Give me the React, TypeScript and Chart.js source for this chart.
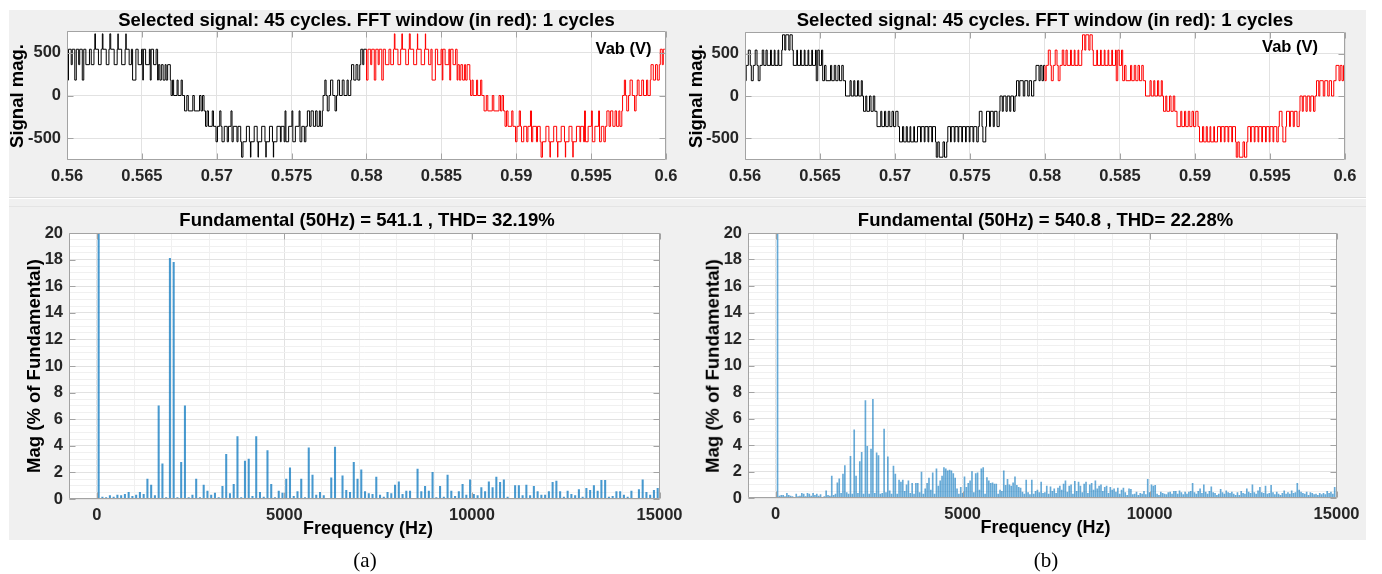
import React, { useEffect, useRef } from 'react';
import { Chart, registerables } from 'chart.js';

Chart.register(...registerables);

// ---------------- data ----------------
const TIME_START = 0.56;
const WINDOW_START = 0.58;
const PERIOD_S = 0.02;

// one cycle of Vab (ms from cycle start, volts), panel (a)
const WAVE_A_MS = [
  0.0, 0.1, 0.28, 0.35, 0.52, 0.62, 0.78, 0.85, 1.02, 1.12, 1.26,
  1.5, 1.62, 1.8, 1.86,
  1.9, 2.1, 2.28, 2.36, 2.4, 2.62, 2.8, 2.86, 2.92, 3.15, 3.35, 3.4, 3.42, 3.65, 3.88, 3.93, 3.95, 4.15,
  4.3, 4.38, 4.6, 4.75, 4.98, 5.06, 5.1, 5.25, 5.5, 5.56, 5.62, 5.78, 5.95, 6.05, 6.1,
  6.2, 6.3, 6.42, 6.55, 6.62, 6.72, 6.9, 6.95,
  7.05, 7.12, 7.35, 7.42, 7.62, 7.7, 7.85,
  8.0, 8.1, 8.4, 8.5, 8.85, 8.95, 9.05, 9.15, 9.25,
  9.35, 9.45, 9.7, 9.78, 9.95,
  10.05, 10.2, 10.28, 10.35, 10.5, 10.7, 10.78, 10.95, 11.02, 11.1, 11.35, 11.42, 11.6, 11.66,
  11.75, 11.98, 12.18, 12.25, 12.28, 12.5, 12.7, 12.76, 12.78, 13.0, 13.22, 13.28, 13.3, 13.52, 13.72, 13.78, 13.8, 14.02,
  14.25, 14.3, 14.5, 14.56, 14.62, 14.8, 15.02, 15.08, 15.25, 15.5, 15.56, 15.68, 15.85, 15.95, 16.05,
  16.2, 16.3, 16.45, 16.6, 16.7, 16.85, 16.92, 17.05,
  17.1, 17.22, 17.3, 17.38, 17.5, 17.6, 17.75, 17.9, 18.0, 18.08,
  18.2, 18.38, 18.5, 18.7, 18.78, 18.95, 19.0,
  19.15, 19.3, 19.42, 19.55, 19.62, 19.75, 19.82, 19.9,
];
const WAVE_A_V = [
  540, 180, 540, 360, 540, 180, 540, 360, 540, 180, 540,
  360, 540, 360, 540,
  720, 540, 360, 540, 720, 540, 360, 540, 720, 540, 360, 540, 720, 540, 360, 540, 720, 540,
  360, 540, 180, 540, 360, 540, 180, 540, 360, 540, 180, 540, 360, 540, 180,
  360, 180, 360, 180, 360, 180, 360, 180,
  0, 180, 0, 180, 0, 180, 0,
  -180, 0, -180, 0, -180, 0, -180, 0, -180,
  -360, -180, -360, -180, -360,
  -540, -360, -180, -360, -540, -360, -540, -360, -180, -540, -360, -540, -360, -540,
  -720, -540, -360, -540, -720, -540, -360, -540, -720, -540, -360, -540, -720, -540, -360, -540, -720, -540,
  -360, -540, -360, -540, -180, -540, -360, -180, -540, -360, -180, -540, -360, -540, -360,
  -180, -360, -180, -360, -180, -360, -180, -360,
  -180, 0, 180, 0, -180, 0, 180, 0, -180, 0,
  180, 0, 180, 0, 180, 0, 180,
  360, 180, 360, 180, 360, 540, 360, 540,
];

// one cycle of Vab, panel (b)
const WAVE_B_MS = [
  0.0, 0.08, 0.22, 0.35, 0.42, 0.55, 0.68, 0.8, 0.88, 1.0, 1.15, 1.25,
  1.4, 1.48, 1.7, 1.76, 1.95, 2.0, 2.2, 2.25, 2.45, 2.5,
  2.65, 2.72, 2.92, 3.0, 3.15, 3.22,
  3.45, 3.5, 3.7, 3.75, 3.95, 4.0, 4.2, 4.25, 4.45, 4.5, 4.7, 4.75, 4.85, 4.95, 5.1, 5.18, 5.3, 5.4,
  5.7, 5.78, 5.95, 6.05, 6.2, 6.3, 6.45, 6.55, 6.7,
  7.0, 7.08, 7.25, 7.32, 7.5, 7.58, 7.75, 7.82, 7.9,
  8.05, 8.12, 8.3, 8.4, 8.55, 8.65, 8.8,
  9.05, 9.12, 9.3, 9.38, 9.55, 9.65, 9.8, 9.9, 10.05, 10.2, 10.3,
  10.5, 10.58, 10.75, 10.82, 11.0, 11.05, 11.25, 11.3, 11.5,
  11.7, 11.75, 11.95, 12.0, 12.2, 12.25, 12.45, 12.5, 12.7, 12.75, 12.85, 12.95, 13.2, 13.3, 13.45, 13.52,
  13.7, 13.75, 13.95, 14.0, 14.2, 14.25, 14.45, 14.5, 14.7, 14.75, 14.95, 15.0, 15.2, 15.25, 15.45,
  15.55, 15.62, 15.8, 15.86, 16.05, 16.1, 16.3, 16.36, 16.55, 16.62, 16.8,
  16.95, 17.0, 17.15, 17.22, 17.4, 17.48, 17.65, 17.72, 17.9, 18.0, 18.1,
  18.25, 18.32, 18.55, 18.65, 18.85, 18.95, 19.1, 19.25, 19.4,
  19.6, 19.68, 19.8, 19.9, 19.95,
];
const WAVE_B_V = [
  360, 180, 360, 540, 360, 180, 360, 540, 360, 180, 360, 540,
  360, 540, 360, 540, 360, 540, 360, 540, 360, 540,
  720, 540, 720, 540, 720, 540,
  360, 540, 360, 540, 360, 540, 360, 540, 360, 540, 360, 540, 180, 540, 360, 540, 180, 360,
  180, 360, 180, 360, 180, 360, 180, 360, 180,
  0, 180, 0, 180, 0, 180, 0, 180, 0,
  -180, 0, -180, 0, -180, 0, -180,
  -360, -180, -360, -180, -360, -180, -360, -180, -360, -180, -360,
  -540, -360, -540, -360, -540, -360, -540, -360, -540,
  -360, -540, -360, -540, -360, -540, -360, -540, -360, -540, -720, -540, -720, -540, -720, -540,
  -360, -540, -360, -540, -360, -540, -360, -540, -360, -540, -360, -540, -360, -540, -360,
  -540, -360, -180, -360, -540, -360, -180, -360, -180, -360, -180,
  -360, -180, 0, -180, 0, -180, 0, -180, 0, -180, 0,
  180, 0, 180, 0, 180, 0, 180, 0, 180,
  360, 180, 360, 180, 360,
];

const TOP_X_TICKS = [0.56, 0.565, 0.57, 0.575, 0.58, 0.585, 0.59, 0.595, 0.6];
const TOP_X_LABELS = ['0.56', '0.565', '0.57', '0.575', '0.58', '0.585', '0.59', '0.595', '0.6'];
const TOP_Y_TICKS = [-500, 0, 500];
const TOP_Y_LABELS = ['-500', '0', '500'];

// spectra (% of fundamental)
const FUND_FREQ = 50;
const FUND_MAG = 100;
const HARM_A_START = 150;
const HARM_A_STEP = 100;
const HARM_A_MAG = [
  0.15, 0.1, 0.25, 0.15, 0.3, 0.25, 0.35, 0.5, 0.2, 0.3, 0.5, 0.35,
  1.5, 1.05, 0.25, 7.0, 2.65, 0.1, 18.1, 17.8, 0.1, 2.75,
  7.0, 0.1, 0.3, 1.5, 0.1, 1.05, 0.6, 0.3, 0.45, 0.1,
  0.95, 3.35, 0.4, 1.1, 4.7, 0.1, 2.85, 3.0, 0.2, 4.7,
  0.5, 0.15, 3.65, 1.1, 0.1, 0.6, 0.45, 1.5, 2.35, 0.2,
  0.55, 1.5, 0.1, 3.85, 1.8, 0.3, 0.5, 0.25, 0.05, 1.6,
  3.9, 0.05, 1.75, 0.65, 0.5, 2.75, 1.5, 2.2, 0.55, 0.4,
  0.35, 1.65, 0.3, 0.15, 0.5, 0.4, 1.05, 1.3, 0.35, 0.6,
  0.6, 0.05, 2.25, 0.55, 0.95, 0.6, 2.0, 0.1, 0.95, 0.15,
  1.8, 0.6, 0.2, 0.55, 1.1, 0.3, 1.45, 0.35, 0.25, 0.85,
  0.55, 1.3, 0.85, 1.65, 1.25, 1.45, 0.15, 0.05, 1.0, 1.0,
  0.25, 1.05, 0.25, 0.95, 0.55, 0.3, 0.3, 0.55, 1.25, 1.35,
  0.55, 0.15, 0.6, 0.35, 0.25, 0.7, 0.15, 0.8, 0.65, 1.0,
  0.6, 1.4, 1.4, 0.15, 0.2, 0.55, 0.55, 0.3, 0.15, 0.6,
  0.05, 0.7, 1.45, 0.5, 0.3, 0.65, 0.8,
];
const HARM_B_START = 100;
const HARM_B_STEP = 50;
const HARM_B_MAG = [
  0.15, 0.2, 0.2, 0.1, 0.35, 0.2, 0.15, 0.1, 0.05, 0.3, 0.1, 0.15, 0.35, 0.3,
  0.1, 0.35, 0.3, 0.15, 0.35, 0.2, 0.3, 0.15, 0.25, 0.05, 0.1, 0.55, 0.2, 0.15,
  1.65, 0.2, 0.3, 1.15, 1.45, 0.35, 1.8, 2.45, 0.4, 0.3,
  3.15, 0.3, 5.15, 1.65, 0.35, 2.75, 3.45, 0.3, 7.35, 3.9,
  0.3, 3.7, 7.45, 0.35, 3.4, 3.2, 0.3, 0.35, 5.2, 0.4,
  3.1, 0.55, 0.3, 2.4, 1.8, 0.3, 1.35, 1.2, 1.35, 0.5, 1.0,
  1.3, 0.35, 1.1, 0.3, 1.1, 1.1, 0.4, 1.95, 0.3, 0.7,
  1.1, 1.5, 0.6, 1.9, 0.3, 2.2, 0.9, 1.3, 1.65, 2.3,
  2.2, 2.05, 2.1, 2.05, 1.85, 1.5, 0.7, 0.3, 0.8, 0.35,
  1.6, 0.8, 1.1, 1.3, 2.0, 0.4, 1.85, 1.9, 0.6, 2.2,
  2.3, 0.3, 1.55, 1.3, 1.1, 1.15, 1.05, 1.05, 0.3, 0.6,
  0.5, 2.05, 0.95, 1.4, 1.0, 0.9, 1.15, 1.6, 0.95, 0.8,
  0.75, 0.45, 0.3, 1.35, 0.4, 0.25, 1.35, 0.3, 0.5, 0.6,
  0.4, 1.2, 0.35, 0.4, 0.9, 0.3, 0.85, 0.5, 0.7, 0.35,
  0.75, 0.9, 0.6, 1.05, 1.3, 0.45, 0.9, 1.0, 0.3, 1.25,
  0.5, 1.2, 0.9, 0.4, 1.05, 1.2, 0.35, 1.0, 1.1, 0.6,
  1.3, 0.7, 0.9, 1.0, 0.5, 0.8, 0.9, 0.35, 0.8, 0.6,
  0.7, 0.45, 0.75, 0.3, 0.6, 0.75, 0.4, 0.2, 0.7, 0.65,
  0.25, 0.3, 0.45, 0.2, 0.35, 0.3, 0.5, 0.25, 1.4, 0.4,
  1.0, 0.9, 0.95, 0.3, 0.2, 0.45, 0.35, 0.3, 0.25, 0.4,
  0.45, 0.3, 0.5, 0.5, 0.3, 0.55, 0.4, 0.25, 0.45, 0.3,
  0.45, 0.5, 1.1, 0.4, 0.3, 0.5, 0.7, 0.35, 1.0, 0.45,
  0.3, 0.5, 0.85, 0.4, 0.35, 0.2, 0.3, 0.65, 0.4, 0.3,
  0.55, 0.4, 0.35, 0.45, 0.3, 0.2, 0.4, 0.2, 0.5, 0.35,
  0.3, 0.7, 0.45, 0.35, 1.0, 0.4, 0.3, 0.55, 0.8, 0.4,
  0.35, 0.9, 0.3, 0.35, 0.95, 0.4, 0.25, 0.45, 0.3, 0.2,
  0.35, 0.55, 0.3, 0.4, 0.3, 0.55, 0.35, 0.4, 1.1, 0.6,
  0.45, 0.35, 0.3, 0.45, 0.2, 0.4, 0.35, 0.25, 0.3, 0.2,
  0.35, 0.25, 0.35, 0.25, 0.5, 0.35, 0.45, 0.3, 0.8,
];

const FFT_X_TICKS = [0, 5000, 10000, 15000];
const FFT_X_LABELS = ['0', '5000', '10000', '15000'];
const FFT_Y_TICKS = [0, 2, 4, 6, 8, 10, 12, 14, 16, 18, 20];
const FFT_Y_LABELS = ['0', '2', '4', '6', '8', '10', '12', '14', '16', '18', '20'];

// ---------------- styling ----------------
const SANS = "'Liberation Sans', Arial, Helvetica, sans-serif";
const TICK_FONT = { family: SANS, size: 16.5, weight: 'bold' as const };
const TICK_COLOR = '#262626';
const BG = '#f0f0f0';
const BOX_COLOR = '#a3a3a3';
const GRID_MAJOR = '#e2e2e2';
const GRID_MINOR = '#f0f0f0';
const BAR_COLOR = 'rgba(0,114,189,0.72)';
const BAR_COLOR_B = 'rgba(0,114,189,0.6)';

const framePlugin = {
  id: 'frame',
  beforeDraw(chart: any) {
    const { ctx, chartArea: a } = chart;
    ctx.save();
    ctx.fillStyle = '#ffffff';
    ctx.fillRect(a.left, a.top, a.right - a.left, a.bottom - a.top);
    ctx.restore();
  },
  afterDraw(chart: any, _args: any, opts: any) {
    const { ctx, chartArea: a, scales } = chart;
    const x0 = Math.round(a.left) + 0.5;
    const y0 = Math.round(a.top) + 0.5;
    const x1 = Math.round(a.right) - 0.5;
    const y1 = Math.round(a.bottom) - 0.5;
    const len = opts.len || 6;
    ctx.save();
    ctx.strokeStyle = BOX_COLOR;
    ctx.lineWidth = 1;
    ctx.beginPath();
    ctx.rect(x0, y0, x1 - x0, y1 - y0);
    (opts.xTicks || []).forEach((v: number) => {
      const p = Math.round(scales.x.getPixelForValue(v)) + 0.5;
      ctx.moveTo(p, y1); ctx.lineTo(p, y1 - len);
      ctx.moveTo(p, y0); ctx.lineTo(p, y0 + len);
    });
    (opts.yTicks || []).forEach((v: number) => {
      const p = Math.round(scales.y.getPixelForValue(v)) + 0.5;
      ctx.moveTo(x0, p); ctx.lineTo(x0 + len, p);
      ctx.moveTo(x1, p); ctx.lineTo(x1 - len, p);
    });
    ctx.stroke();
    ctx.restore();
  },
};

type Box = { left: number; top: number; w: number; h: number };
type Area = { l: number; t: number; r: number; b: number };

function layoutFor(c: Box, a: Area) {
  return {
    padTop: a.t - c.top,
    padRight: c.left + c.w - a.r,
    yWidth: a.l - c.left,
    xHeight: c.top + c.h - a.b,
  };
}

function cyclePoints(ms: number[], v: number[], start: number) {
  const pts = ms.map((m, i) => ({ x: start + m / 1000, y: v[i] }));
  pts.push({ x: start + PERIOD_S, y: v[v.length - 1] });
  return pts;
}

function waveConfig(ms: number[], v: number[], c: Box, a: Area) {
  const L = layoutFor(c, a);
  return {
    type: 'line',
    data: {
      datasets: [
        { data: cyclePoints(ms, v, TIME_START), borderColor: '#000000', borderWidth: 1, stepped: 'after', pointRadius: 0, fill: false },
        { data: cyclePoints(ms, v, WINDOW_START), borderColor: '#ff0000', borderWidth: 1, stepped: 'after', pointRadius: 0, fill: false },
      ],
    },
    options: {
      animation: false,
      responsive: false,
      maintainAspectRatio: false,
      events: [],
      layout: { padding: { top: L.padTop, right: L.padRight, left: 0, bottom: 0 } },
      plugins: {
        legend: { display: false },
        tooltip: { enabled: false },
        frame: { xTicks: TOP_X_TICKS, yTicks: TOP_Y_TICKS, len: 6 },
      },
      scales: {
        x: {
          type: 'linear',
          min: TOP_X_TICKS[0],
          max: TOP_X_TICKS[TOP_X_TICKS.length - 1],
          afterBuildTicks: (s: any) => { s.ticks = TOP_X_TICKS.map((t) => ({ value: t })); },
          afterFit: (s: any) => { s.height = L.xHeight; },
          ticks: {
            autoSkip: false, maxRotation: 0, minRotation: 0, padding: 6.5,
            font: TICK_FONT, color: TICK_COLOR,
            callback: (_v: any, i: number) => TOP_X_LABELS[i],
          },
          grid: { color: GRID_MAJOR, drawTicks: false },
          border: { display: false },
        },
        y: {
          type: 'linear',
          min: -753,
          max: 753,
          afterBuildTicks: (s: any) => { s.ticks = TOP_Y_TICKS.map((t) => ({ value: t })); },
          afterFit: (s: any) => { s.width = L.yWidth; },
          ticks: {
            autoSkip: false, padding: 6,
            font: TICK_FONT, color: TICK_COLOR,
            callback: (_v: any, i: number) => TOP_Y_LABELS[i],
          },
          grid: { color: GRID_MAJOR, drawTicks: false },
          border: { display: false },
        },
      },
    },
    plugins: [framePlugin],
  };
}

function fftConfig(start: number, step: number, mags: number[], c: Box, a: Area, xMin: number, color: string, thick: number) {
  const L = layoutFor(c, a);
  const pts = [{ x: FUND_FREQ, y: FUND_MAG }].concat(mags.map((m, i) => ({ x: start + i * step, y: m })));
  const xGrid: number[] = [];
  for (let f = 0; f <= 15000; f += 1000) xGrid.push(f);
  const yGrid: number[] = [];
  for (let g = 0; g <= 20; g += 0.5) yGrid.push(g);
  return {
    type: 'bar',
    data: {
      datasets: [
        { data: pts, backgroundColor: color, borderWidth: 0, barThickness: thick, clip: 0 },
      ],
    },
    options: {
      animation: false,
      responsive: false,
      maintainAspectRatio: false,
      events: [],
      layout: { padding: { top: L.padTop, right: L.padRight, left: 0, bottom: 0 } },
      plugins: {
        legend: { display: false },
        tooltip: { enabled: false },
        frame: { xTicks: FFT_X_TICKS, yTicks: FFT_Y_TICKS, len: 6 },
      },
      scales: {
        x: {
          type: 'linear',
          offset: false,
          min: xMin,
          max: 15000,
          afterBuildTicks: (s: any) => { s.ticks = xGrid.map((t) => ({ value: t })); },
          afterFit: (s: any) => { s.height = L.xHeight; },
          ticks: {
            autoSkip: false, maxRotation: 0, minRotation: 0, padding: 6.5,
            font: TICK_FONT, color: TICK_COLOR,
            callback: (v: any) => {
              const k = FFT_X_TICKS.indexOf(v);
              return k >= 0 ? FFT_X_LABELS[k] : '';
            },
          },
          grid: {
            offset: false,
            drawTicks: false,
            color: (ctx: any) => (ctx.tick && FFT_X_TICKS.indexOf(ctx.tick.value) >= 0 ? GRID_MAJOR : GRID_MINOR),
          },
          border: { display: false },
        },
        y: {
          type: 'linear',
          min: 0,
          max: 20,
          afterBuildTicks: (s: any) => { s.ticks = yGrid.map((t) => ({ value: t })); },
          afterFit: (s: any) => { s.width = L.yWidth; },
          ticks: {
            autoSkip: false, padding: 6,
            font: TICK_FONT, color: TICK_COLOR,
            callback: (v: any) => {
              const k = FFT_Y_TICKS.indexOf(v);
              return k >= 0 ? FFT_Y_LABELS[k] : '';
            },
          },
          grid: {
            drawTicks: false,
            color: (ctx: any) => (ctx.tick && FFT_Y_TICKS.indexOf(ctx.tick.value) >= 0 ? GRID_MAJOR : GRID_MINOR),
          },
          border: { display: false },
        },
      },
    },
    plugins: [framePlugin],
  };
}

function ChartCanvas({ box, make }: { box: Box; make: () => any }) {
  const ref = useRef<HTMLCanvasElement | null>(null);
  useEffect(() => {
    const chart = new Chart(ref.current as HTMLCanvasElement, make());
    return () => chart.destroy();
  }, []);
  return (
    <canvas
      ref={ref}
      width={box.w}
      height={box.h}
      style={{ position: 'absolute', left: box.left, top: box.top, width: box.w, height: box.h }}
    />
  );
}

function Label({ x, y, text, size, rotate, serif }: { x: number; y: number; text: string; size: number; rotate?: boolean; serif?: boolean }) {
  return (
    <div
      style={{
        position: 'absolute',
        left: x,
        top: y,
        transform: `translate(-50%, -50%)${rotate ? ' rotate(-90deg)' : ''}`,
        whiteSpace: 'nowrap',
        fontFamily: serif ? "'Liberation Serif', 'Times New Roman', serif" : SANS,
        fontWeight: serif ? 'normal' : 'bold',
        fontSize: size,
        lineHeight: 1,
        color: '#000',
      }}
    >
      {text}
    </div>
  );
}

const TL_BOX: Box = { left: 9, top: 10, w: 680, h: 188 };
const TL_AREA: Area = { l: 67, t: 31, r: 666, b: 160 };
const TR_BOX: Box = { left: 691, top: 10, w: 675, h: 188 };
const TR_AREA: Area = { l: 745, t: 32, r: 1345, b: 160 };
const BL_BOX: Box = { left: 9, top: 200, w: 680, h: 340 };
const BL_AREA: Area = { l: 69, t: 233, r: 665, b: 499 };
const BR_BOX: Box = { left: 691, top: 200, w: 675, h: 340 };
const BR_AREA: Area = { l: 748, t: 233, r: 1343, b: 498 };

export default function App() {
  return (
    <div style={{ position: 'absolute', left: 0, top: 0, width: 1382, height: 574, background: '#ffffff', overflow: 'hidden' }}>
      <div style={{ position: 'absolute', left: 9, top: 10, width: 1357, height: 188, background: BG }} />
      <div style={{ position: 'absolute', left: 9, top: 197, width: 1357, height: 1, background: '#dddddd' }} />
      <div style={{ position: 'absolute', left: 9, top: 199, width: 1357, height: 341, background: BG }} />
      <div style={{ position: 'absolute', left: 9, top: 206, width: 1357, height: 1, background: '#e4e4e4' }} />

      <ChartCanvas box={TL_BOX} make={() => waveConfig(WAVE_A_MS, WAVE_A_V, TL_BOX, TL_AREA)} />
      <ChartCanvas box={TR_BOX} make={() => waveConfig(WAVE_B_MS, WAVE_B_V, TR_BOX, TR_AREA)} />
      <ChartCanvas box={BL_BOX} make={() => fftConfig(HARM_A_START, HARM_A_STEP, HARM_A_MAG, BL_BOX, BL_AREA, -740, BAR_COLOR, 1.4)} />
      <ChartCanvas box={BR_BOX} make={() => fftConfig(HARM_B_START, HARM_B_STEP, HARM_B_MAG, BR_BOX, BR_AREA, -740, BAR_COLOR_B, 1)} />

      <Label x={366.5} y={20} size={18.5} text="Selected signal: 45 cycles. FFT window (in red): 1 cycles" />
      <Label x={1045} y={20} size={18.5} text="Selected signal: 45 cycles. FFT window (in red): 1 cycles" />
      <Label x={623.5} y={48} size={16.5} text="Vab (V)" />
      <Label x={1290} y={46} size={16.5} text="Vab (V)" />
      <Label x={17} y={95.5} size={18.5} rotate text="Signal mag." />
      <Label x={696} y={95.5} size={18.5} rotate text="Signal mag." />

      <Label x={367} y={219.5} size={18.5} text="Fundamental (50Hz) = 541.1 , THD= 32.19%" />
      <Label x={1045.5} y={219.5} size={18.5} text="Fundamental (50Hz) = 540.8 , THD= 22.28%" />
      <Label x={34} y={366} size={18.5} rotate text="Mag (% of Fundamental)" />
      <Label x={712.5} y={366} size={18.5} rotate text="Mag (% of Fundamental)" />
      <Label x={368} y={528} size={18} text="Frequency (Hz)" />
      <Label x={1045.5} y={527} size={18} text="Frequency (Hz)" />

      <Label x={365} y={560} size={21} serif text="(a)" />
      <Label x={1046} y={560} size={21} serif text="(b)" />
    </div>
  );
}
